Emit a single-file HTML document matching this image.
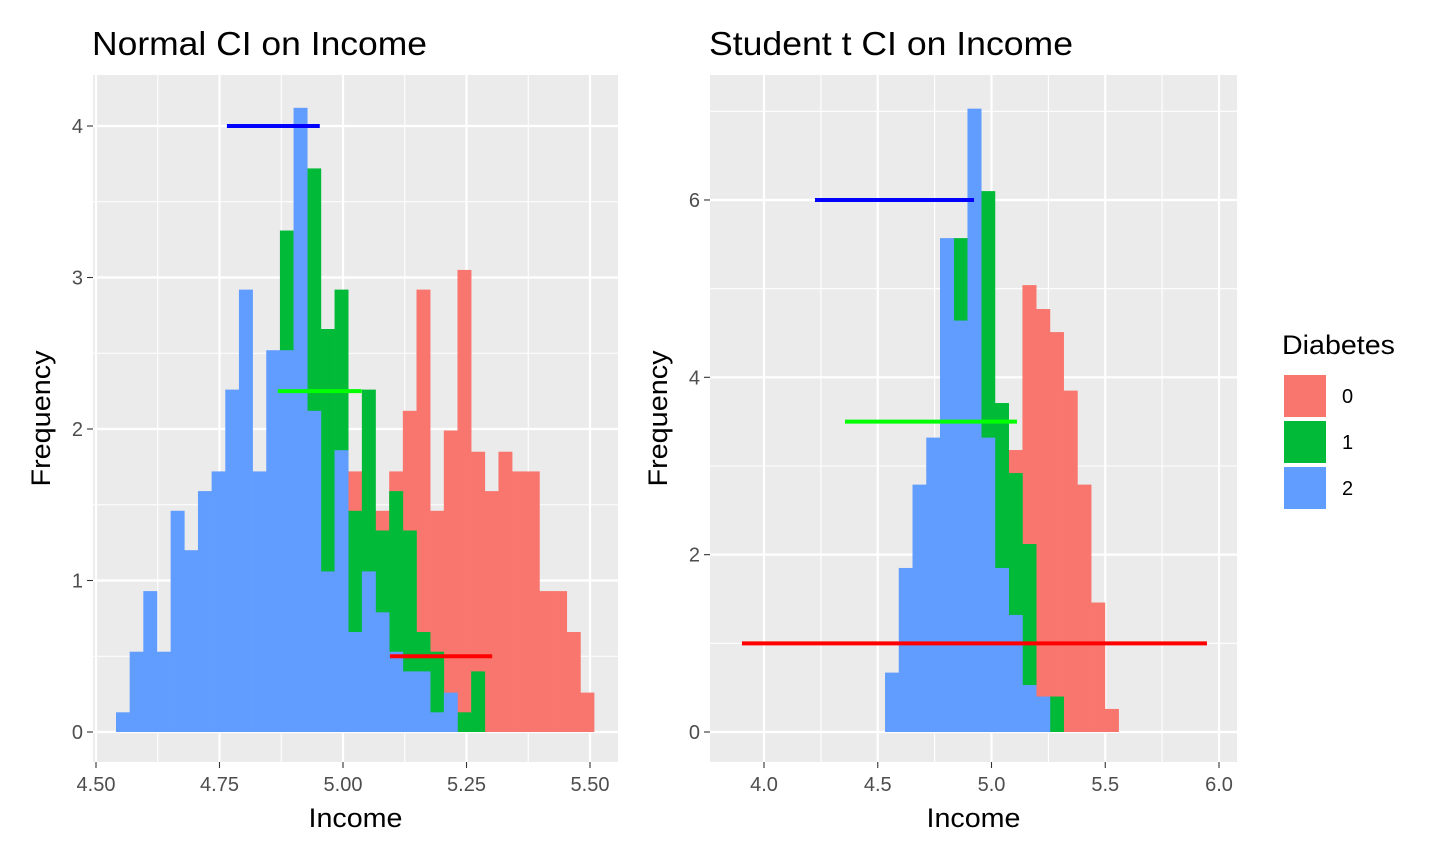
<!DOCTYPE html>
<html><head><meta charset="utf-8"><style>
body{margin:0;background:#fff;font-family:"Liberation Sans",sans-serif}
svg{display:block}
</style></head><body>
<svg id="chart" width="1440" height="864" xmlns="http://www.w3.org/2000/svg"></svg>
<script>
// ---- Left panel data (Normal CI) ----
const leftBinStart = 4.5405;
const leftBinWidth = 0.02765;
const leftBlue = [0.13,0.53,0.93,0.53,1.46,1.20,1.59,1.72,2.26,2.92,1.72,2.52,2.52,4.12,2.12,1.06,1.86,0.66,1.06,0.79,0.53,0.40,0.40,0.13,0.26,0,0,0,0,0,0,0,0,0,0];
const leftGreen = [0,0,0,0,0,0,0,0,0,0,0,0,3.31,0,3.72,2.66,2.92,1.46,2.26,1.33,1.59,1.33,0.66,0.53,0,0.13,0.40,0,0,0,0,0,0,0,0];
const leftRed = [0,0,0,0,0,0,0,0,0,0,0,0,0,0,0,0,0,1.72,0,1.46,1.72,2.12,2.92,1.46,1.99,3.05,1.85,1.59,1.85,1.72,1.72,0.93,0.93,0.66,0.26];
const leftCI = [{lo:5.095,hi:5.302,y:0.5,c:'#FF0000',n:'ci-group-0'},{lo:4.868,hi:5.038,y:2.25,c:'#00FF00',n:'ci-group-1'},{lo:4.765,hi:4.953,y:4.0,c:'#0000FF',n:'ci-group-2'}];
const leftXTicks = [4.50,4.75,5.00,5.25,5.50];
const leftXLabels = ['4.50','4.75','5.00','5.25','5.50'];
const leftYTicks = [0,1,2,3,4];
// ---- Right panel data (Student t CI) ----
const rightBinStart = 4.532;
const rightBinWidth = 0.0604;
const rightBlue = [0.67,1.85,2.79,3.32,5.57,4.64,7.03,3.32,1.85,1.32,0.53,0.40,0,0,0,0,0];
const rightGreen = [0,0,0,0,0,5.57,0,6.10,3.71,2.92,2.12,0,0.40,0,0,0,0];
const rightRed = [0,0,0,0,0,0,0,0,0,3.18,5.04,4.77,4.51,3.85,2.79,1.46,0.26];
const rightCI = [{lo:3.903,hi:5.947,y:1.0,c:'#FF0000',n:'ci-group-0'},{lo:4.356,hi:5.112,y:3.5,c:'#00FF00',n:'ci-group-1'},{lo:4.224,hi:4.923,y:6.0,c:'#0000FF',n:'ci-group-2'}];
const rightXTicks = [4.0,4.5,5.0,5.5,6.0];
const rightXLabels = ['4.0','4.5','5.0','5.5','6.0'];
const rightYTicks = [0,2,4,6];

const NS='http://www.w3.org/2000/svg';
const svg=document.getElementById('chart');
function mk(tag,attrs,parent){const e=document.createElementNS(NS,tag);for(const k in attrs)e.setAttribute(k,attrs[k]);(parent||svg).appendChild(e);return e;}

function panel(o){
  const g=mk('g',{});
  
  
  const X=v=>o.px0+(v-o.x0)*o.kx, Y=v=>o.py0-(v-o.y0)*o.ky;
  const bg=mk('rect',{x:o.L,y:o.T,width:o.R-o.L,height:o.B-o.T,fill:'#EBEBEB'},g);
  
  
  o.xMinor.forEach(v=>{mk('line',{x1:X(v),x2:X(v),y1:o.T,y2:o.B,stroke:'#fff','stroke-width':1.1},g);});
  o.yMinor.forEach(v=>{mk('line',{x1:o.L,x2:o.R,y1:Y(v),y2:Y(v),stroke:'#fff','stroke-width':1.1},g);});
  o.xTicks.forEach(v=>{mk('line',{x1:X(v),x2:X(v),y1:o.T,y2:o.B,stroke:'#fff','stroke-width':2.2},g);});
  o.yTicks.forEach(v=>{mk('line',{x1:o.L,x2:o.R,y1:Y(v),y2:Y(v),stroke:'#fff','stroke-width':2.2},g);});
  [[o.red,'#F8766D','bar-diabetes-0'],[o.green,'#00BA38','bar-diabetes-1'],[o.blue,'#619CFF','bar-diabetes-2']].forEach(([arr,col,nm])=>{
    arr.forEach((v,i)=>{ if(v<=0) return;
      const x1=X(o.bs+i*o.bw), x2=X(o.bs+(i+1)*o.bw);
      const r=mk('rect',{x:x1,y:Y(v),width:x2-x1+0.3,height:Y(0)-Y(v),fill:col},g);
      
      
    });
  });
  o.ci.forEach(c=>{
    const l=mk('line',{x1:X(c.lo),x2:X(c.hi),y1:Y(c.y),y2:Y(c.y),stroke:c.c,'stroke-width':4},g);
    
    
  });
  o.xTicks.forEach((v,i)=>{
    mk('line',{x1:X(v),x2:X(v),y1:o.B,y2:o.B+6,stroke:'#333','stroke-width':1.1},g);
    const t=mk('text',{x:X(v),y:o.B+29,'text-anchor':'middle','font-size':20,fill:'#4D4D4D'},g);
    t.textContent=o.xLabels[i];
    
    
  });
  o.yTicks.forEach(v=>{
    mk('line',{x1:o.L-6,x2:o.L,y1:Y(v),y2:Y(v),stroke:'#333','stroke-width':1.1},g);
    const t=mk('text',{x:o.L-10,y:Y(v)+7,'text-anchor':'end','font-size':20,fill:'#4D4D4D'},g);
    t.textContent=String(v);
    
    
  });
  const xt=mk('text',{x:(o.L+o.R)/2,y:827,'text-anchor':'middle','font-size':27,fill:'#000',textLength:94,lengthAdjust:'spacingAndGlyphs'},g);
  xt.textContent='Income';
  
  
  const yt=mk('text',{x:0,y:0,'text-anchor':'middle','font-size':27,fill:'#000',textLength:136,lengthAdjust:'spacingAndGlyphs',transform:`translate(${o.L-43},${(o.T+o.B)/2}) rotate(-90)`},g);
  yt.textContent='Frequency';
  
  
  const tt=mk('text',{x:o.L-1,y:55,'font-size':33,fill:'#000',textLength:o.titleLen,lengthAdjust:'spacingAndGlyphs'},g);
  tt.textContent=o.title;
  
  
}

panel({name:'normal-ci-panel',title:'Normal CI on Income',titleLen:335,L:93,R:618,T:75,B:762,
  x0:4.5,px0:96,kx:494,y0:0,py0:732,ky:151.5,
  xTicks:leftXTicks,xLabels:leftXLabels,yTicks:leftYTicks,
  xMinor:[4.625,4.875,5.125,5.375],yMinor:[0.5,1.5,2.5,3.5],
  bs:leftBinStart,bw:leftBinWidth,blue:leftBlue,green:leftGreen,red:leftRed,ci:leftCI});
panel({name:'student-t-ci-panel',title:'Student t CI on Income',titleLen:364,L:710,R:1237,T:75,B:762,
  x0:4.0,px0:764,kx:227.5,y0:0,py0:732,ky:88.67,
  xTicks:rightXTicks,xLabels:rightXLabels,yTicks:rightYTicks,
  xMinor:[3.75,4.25,4.75,5.25,5.75],yMinor:[1,3,5,7],
  bs:rightBinStart,bw:rightBinWidth,blue:rightBlue,green:rightGreen,red:rightRed,ci:rightCI});

const lg=mk('g',{});


const lt=mk('text',{x:1282,y:354,'font-size':27,fill:'#000',textLength:113,lengthAdjust:'spacingAndGlyphs'},lg);
lt.textContent='Diabetes';


[['0','#F8766D'],['1','#00BA38'],['2','#619CFF']].forEach(([lab,col],i)=>{
  const y=374+i*46;
  const k=mk('rect',{x:1283,y:y,width:44,height:44,fill:col,stroke:'#fff','stroke-width':2},lg);
  
  
  const t=mk('text',{x:1342,y:y+29,'font-size':20,fill:'#000'},lg);
  t.textContent=lab;
  
  
});
</script>
</body></html>
